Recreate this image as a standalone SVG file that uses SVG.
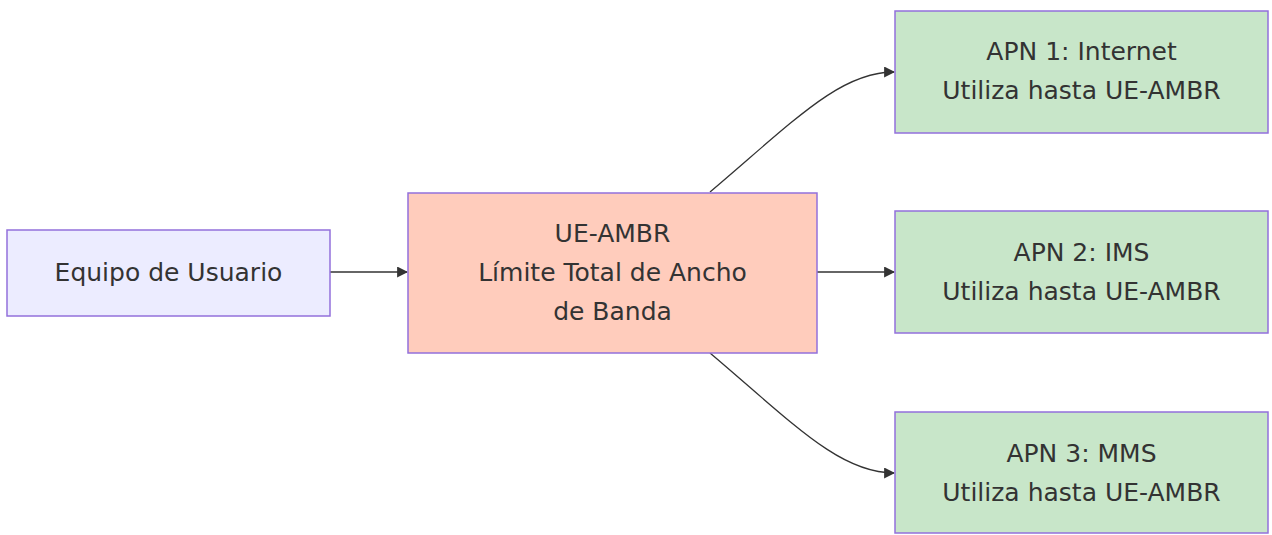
<svg xmlns="http://www.w3.org/2000/svg" width="1272" height="535" viewBox="0 0 1272 535">
<style>
.node rect{stroke:#9370DB;stroke-width:1.5}
.ue rect{fill:#ECECFF}
.amb rect{fill:#FFCCBC}
.apn rect{fill:#C8E6C9}
text{font-family:"DejaVu Sans",Verdana,sans-serif;font-size:25px;fill:#333;text-anchor:middle}
.edge{fill:none;stroke:#333;stroke-width:1.3}
</style>
<defs>
<marker id="arr" viewBox="0 0 10 10" refX="9" refY="5" markerWidth="11" markerHeight="11" markerUnits="userSpaceOnUse" orient="auto">
<path d="M0,0 L10,5 L0,10 z" fill="#333"/>
</marker>
</defs>
<rect width="1272" height="535" fill="#fff"/>
<g id="connectors">
<path class="edge" d="M330,272 L407,272" marker-end="url(#arr)"/>
<path class="edge" d="M817,272 L894,272" marker-end="url(#arr)"/>
<path class="edge" d="M710,192 C795,120 840,72 894,72" marker-end="url(#arr)"/>
<path class="edge" d="M710,353 C795,425 840,473 894,473" marker-end="url(#arr)"/>
</g>
<g id="ue" class="node ue">
<rect x="7" y="230" width="323" height="86"/>
<text x="168.5" y="281">Equipo de Usuario</text>
</g>
<g id="ambr" class="node amb">
<rect x="408" y="193" width="409" height="160"/>
<text x="612.5" y="242">UE-AMBR</text>
<text x="612.5" y="281">Límite Total de Ancho</text>
<text x="612.5" y="320">de Banda</text>
</g>
<g id="apn1" class="node apn">
<rect x="895" y="11" width="373" height="122"/>
<text x="1081.5" y="60">APN 1: Internet</text>
<text x="1081.5" y="99">Utiliza hasta UE-AMBR</text>
</g>
<g id="apn2" class="node apn">
<rect x="895" y="211" width="373" height="122"/>
<text x="1081.5" y="261">APN 2: IMS</text>
<text x="1081.5" y="300">Utiliza hasta UE-AMBR</text>
</g>
<g id="apn3" class="node apn">
<rect x="895" y="412" width="373" height="121"/>
<text x="1081.5" y="462">APN 3: MMS</text>
<text x="1081.5" y="501">Utiliza hasta UE-AMBR</text>
</g>
</svg>
